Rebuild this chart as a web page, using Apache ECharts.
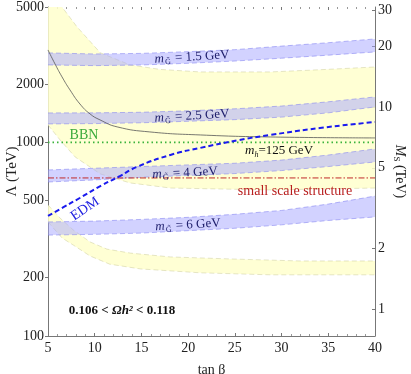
<!DOCTYPE html>
<html>
<head>
<meta charset="utf-8">
<script src="https://cdn.jsdelivr.net/npm/echarts@6/dist/echarts.min.js"></script>
<style>
html,body{margin:0;padding:0;background:#fff}
#chart{width:411px;height:374px}
</style>
</head>
<body>
<div id="chart"></div>
<script>
// tick labels
let xTicks=[5,10,15,20,25,30,35,40]
let lamTicks=[100,200,500,1000,2000,5000]
let msTicks=[1,2,5,10,20,30]

// relic density bands, [tan beta, Lambda (TeV)]
let relicHiTop=[[5,7500],[6.5,5000],[8.1,3950],[10.6,2900],[13.8,2510],[17,2380],[21.3,2310],[28.8,2310],[34,2370],[40,2450]]
let relicHiBot=[[5,1230],[6.3,1028],[7.9,841],[10.6,687],[13.8,617],[18.1,581],[28.8,568],[40,581]]
let relicLoTop=[[5,475],[6.3,406],[7.7,353],[9.5,306],[11.3,281],[13.8,268],[18.1,256],[24.5,250],[32,244],[40,244]]
let relicLoBot=[[5,388],[6.5,321],[7.7,295],[9.5,259],[11.6,235],[14.9,222],[21.3,212],[28.8,207],[40,207]]

// gravitino mass bands
let gravX=[5,10,15,20,25,30,35,40]
let grav15Top=[2897,2860,2880,2940,3010,3140,3270,3420]
let grav15Bot=[2512,2490,2510,2560,2630,2720,2820,2930]
let grav25Top=[1419,1420,1430,1455,1490,1540,1620,1716]
let grav25Bot=[1245,1250,1262,1285,1310,1350,1420,1524]
let grav4Top=[720,735,750,765,780,810,860,925]
let grav4Bot=[624,640,660,675,690,715,750,792]
let grav6Top=[388,392,400,410,425,445,480,528]
let grav6Bot=[332,335,340,350,360,375,395,412]

// lines
let higgsLine=[[5,3000],[5.75,2541],[6.5,2178],[7.35,1866],[8.42,1578],[9.5,1402],[10.57,1306],[12.4,1202],[15.9,1132],[21.3,1092],[28.8,1066],[40,1054]]
let edmLine=[[5,417],[6.7,464],[8.4,516],[10.6,595],[12.7,670],[14.5,746],[18.1,861],[21.3,936],[25.5,1029],[28.8,1092],[34.1,1186],[40,1274]]
let bbnLine=[[5,1000],[40,1000]]
let sssLine=[[5,655],[40,655]]

const serif='"Liberation Serif","DejaVu Serif",serif'

let pairs=(xs,ys)=>xs.map((x,i)=>[x,ys[i]])

let band=(top,bot,fill,edge,z)=>({
    type:'custom',
    coordinateSystem:'cartesian2d',
    clip:true,
    silent:true,
    z:z,
    data:[top[0]],
    renderItem:(params,api)=>{
        let up=top.map(p=>api.coord(p))
        let lo=bot.map(p=>api.coord(p))
        return {
            type:'group',
            children:[
                {type:'polygon',shape:{points:up.concat(lo.slice().reverse())},style:{fill:fill}},
                {type:'polyline',shape:{points:up},style:{stroke:edge,lineWidth:0.8,lineDash:[5,3],fill:null}},
                {type:'polyline',shape:{points:lo},style:{stroke:edge,lineWidth:0.8,lineDash:[5,3],fill:null}}
            ]
        }
    }
})

let yellow='rgba(255,255,205,0.85)'
let yellowEdge='rgba(200,200,150,0.6)'
let blue='rgba(165,165,255,0.5)'
let blueEdge='rgba(130,130,240,0.7)'

let bandLabel=(txt,x,y,rot)=>({
    type:'text',x:x,y:y,rotation:rot,z:100,
    style:{
        text:'{i|m}{s|G\u0303} = '+txt,
        align:'center',verticalAlign:'middle',
        font:'13px '+serif,fill:'#1c1c6a',
        rich:{
            i:{fontStyle:'italic',fontSize:13,fontFamily:serif,fill:'#1c1c6a'},
            s:{fontSize:8,fontFamily:serif,fill:'#1c1c6a',padding:[7,1,0,1]}
        }
    }
})

let chart=echarts.init(document.getElementById('chart'),null,{renderer:'canvas'})

let option={
    animation:false,
    backgroundColor:'#fff',
    grid:{left:48,right:36,top:7,bottom:38,containLabel:false,outerBoundsMode:'none'},
    xAxis:[{
        type:'value',min:5,max:40,interval:5,position:'bottom',
        name:'tan \u03b2',nameLocation:'middle',nameGap:27,nameMoveOverlap:false,
        nameTextStyle:{fontFamily:serif,fontSize:14,color:'#222'},
        axisLine:{show:true,lineStyle:{color:'#777',width:1}},
        axisTick:{show:true,inside:true,length:3,lineStyle:{color:'#777'}},
        minorTick:{show:true,splitNumber:5,length:2,lineStyle:{color:'#999'}},
        axisLabel:{fontFamily:serif,fontSize:14,color:'#222',margin:5,
            customValues:xTicks},
        splitLine:{show:false}
    },{
        type:'value',min:5,max:40,interval:5,position:'top',
        axisLine:{show:false},
        axisTick:{show:true,inside:true,length:3,lineStyle:{color:'#777'}},
        minorTick:{show:true,splitNumber:5,length:2,lineStyle:{color:'#999'}},
        axisLabel:{show:false},
        splitLine:{show:false}
    }],
    yAxis:[{
        type:'log',logBase:10,min:100,max:5000,position:'left',
        name:'\u039b (TeV)',nameLocation:'middle',nameGap:28,nameMoveOverlap:false,
        nameTextStyle:{fontFamily:serif,fontSize:15,color:'#222'},
        axisLine:{show:true,lineStyle:{color:'#777',width:1}},
        axisTick:{show:true,length:3,lineStyle:{color:'#777'},customValues:lamTicks},
        axisLabel:{fontFamily:serif,fontSize:14,color:'#222',margin:4,customValues:lamTicks,
            formatter:v=>String(Math.round(v))},
        splitLine:{show:false}
    },{
        type:'log',logBase:10,min:0.735,max:31.26,position:'right',
        name:'{i|M}{s|S} (TeV)',nameLocation:'middle',nameGap:17,nameRotate:-90,nameMoveOverlap:false,
        nameTextStyle:{fontFamily:serif,fontSize:14,color:'#222',
            rich:{i:{fontStyle:'italic',fontFamily:serif,fontSize:14,color:'#222'},
                  s:{fontFamily:serif,fontSize:9,color:'#222',padding:[6,0,0,0]}}},
        axisLine:{show:true,lineStyle:{color:'#777',width:1}},
        axisTick:{show:true,inside:true,length:3,lineStyle:{color:'#777'},customValues:msTicks},
        axisLabel:{fontFamily:serif,fontSize:14,color:'#222',margin:3,customValues:msTicks,
            formatter:v=>String(Math.round(v))},
        splitLine:{show:false}
    }],
    series:[
        band(relicHiTop,relicHiBot,yellow,yellowEdge,1),
        band(relicLoTop,relicLoBot,yellow,yellowEdge,1),
        band(pairs(gravX,grav15Top),pairs(gravX,grav15Bot),blue,blueEdge,2),
        band(pairs(gravX,grav25Top),pairs(gravX,grav25Bot),blue,blueEdge,2),
        band(pairs(gravX,grav4Top),pairs(gravX,grav4Bot),blue,blueEdge,2),
        band(pairs(gravX,grav6Top),pairs(gravX,grav6Bot),blue,blueEdge,2),
        {type:'line',data:higgsLine,smooth:true,symbol:'none',z:3,clip:true,
            lineStyle:{color:'#555',width:0.8}},
        {type:'line',data:bbnLine,symbol:'none',z:3,
            lineStyle:{color:'#3bb33b',width:1.6,type:[1.5,3]}},
        {type:'line',data:sssLine,symbol:'none',z:3,
            lineStyle:{color:'#c02a2a',width:1,type:[6,2,1.5,2]}},
        {type:'line',data:edmLine,smooth:true,symbol:'none',z:4,
            lineStyle:{color:'#1a1aee',width:2,type:[5,3]}}
    ],
    graphic:[
        bandLabel('1.5 GeV',192,57,0.06),
        bandLabel('2.5 GeV',192,116,0.06),
        bandLabel('4 GeV',185,173,0.05),
        bandLabel('6 GeV',188,225,0.06),
        {type:'text',x:245,y:151,z:100,style:{
            text:'{i|m}{s|h}=125 GeV',align:'left',verticalAlign:'middle',
            font:'13px '+serif,fill:'#111',
            rich:{i:{fontStyle:'italic',fontSize:13,fontFamily:serif,fill:'#111'},
                  s:{fontStyle:'italic',fontSize:8,fontFamily:serif,fill:'#111',padding:[7,0,0,0]}}}},
        {type:'text',x:84,y:135,z:100,style:{text:'BBN',align:'center',verticalAlign:'middle',
            font:'14px '+serif,fill:'#3aaa3a'}},
        {type:'text',x:295,y:191,z:100,style:{text:'small scale structure',align:'center',verticalAlign:'middle',
            font:'14px '+serif,fill:'#b81e1e'}},
        {type:'text',x:85,y:209,rotation:0.6,z:100,style:{text:'EDM',align:'center',verticalAlign:'middle',
            font:'14px '+serif,fill:'#2020e0'}},
        {type:'text',x:122,y:311,z:100,style:{
            text:'0.106 < {o|\u03a9}{b|h\u00b2} < 0.118',align:'center',verticalAlign:'middle',
            font:'bold 13px '+serif,fill:'#111',
            rich:{o:{fontStyle:'italic',fontWeight:'bold',fontSize:13,fontFamily:serif,fill:'#111'},
                  b:{fontStyle:'italic',fontWeight:'bold',fontSize:13,fontFamily:serif,fill:'#111'}}}}
    ]
}

chart.setOption(option)
</script>
</body>
</html>
